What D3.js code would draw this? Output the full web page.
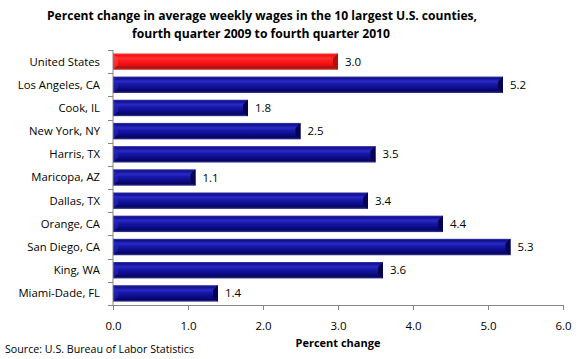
<!DOCTYPE html>
<html><head><meta charset="utf-8">
<script src="https://cdn.jsdelivr.net/npm/d3@7"></script>
<style>body{margin:0;background:#fff}svg{display:block}</style>
</head><body>
<script>
const categories = ["United States","Los Angeles, CA","Cook, IL","New York, NY","Harris, TX","Maricopa, AZ","Dallas, TX","Orange, CA","San Diego, CA","King, WA","Miami-Dade, FL"];
const values = [3.0,5.2,1.8,2.5,3.5,1.1,3.4,4.4,5.3,3.6,1.4];
const xTicks = [0,1,2,3,4,5,6];
const titleLines = ["Percent change in average weekly wages in the 10 largest U.S. counties,","fourth quarter 2009 to fourth quarter 2010"];
const xTitle = "Percent change";
const source = "Source: U.S. Bureau of Labor Statistics";

const W=580,H=359;
const svg=d3.select("body").append("svg").attr("width",W).attr("height",H);
const font="'Open Sans', 'Liberation Sans', sans-serif";
const x=d3.scaleLinear().domain([0,6]).range([113,563]);
const y=d3.scaleBand().domain(categories).range([50,305]).paddingInner(0.29).paddingOuter(0.145);

const defs=svg.append("defs");
function grad(id,stops){
  const g=defs.append("linearGradient").attr("id",id).attr("x1",0).attr("y1",0).attr("x2",0).attr("y2",1);
  stops.forEach(s=>g.append("stop").attr("offset",s[0]).attr("stop-color",s[1]));
}
grad("gBlue",[[0,"#3a3ab0"],[0.1,"#10108a"],[0.3,"#2a2ac8"],[0.45,"#1818a8"],[0.7,"#0c0c8a"],[0.88,"#06065e"],[1,"#3a3a9a"]]);
grad("gRed",[[0,"#ff5a5a"],[0.1,"#ee1010"],[0.3,"#ff3030"],[0.45,"#ff1a1a"],[0.7,"#e81010"],[0.88,"#a81010"],[1,"#d84040"]]);

// bars
const bars=svg.append("g");
categories.forEach((c,i)=>{
  const isUS=i===0;
  const y0=y(c),h=y.bandwidth(),x0=x(0),x1=x(values[i]);
  bars.append("rect").attr("x",x0).attr("y",y0).attr("width",x1-x0).attr("height",h)
    .attr("fill",isUS?"url(#gRed)":"url(#gBlue)");
  const b=5;
  bars.append("path").attr("d",`M${x1},${y0}L${x1-b},${y0+b}L${x1-b},${y0+h-b}L${x1},${y0+h}Z`)
    .attr("fill",isUS?"#b01010":"#040450");
  bars.append("path").attr("d",`M${x0},${y0}L${x0+b},${y0+b}L${x0+b},${y0+h-b}L${x0},${y0+h}Z`)
    .attr("fill",isUS?"#ff4040":"#2626b8").attr("opacity",0.6);
  svg.append("text").attr("x",x1+7).attr("y",y0+h/2).attr("dy","0.35em")
    .attr("font-family",font).attr("font-size",11.5).attr("fill","#000").text(values[i].toFixed(1));
});

// y axis
const axCol="#868686";
svg.append("line").attr("x1",113).attr("x2",113).attr("y1",50).attr("y2",305).attr("stroke",axCol);
const bounds=d3.range(categories.length+1).map(i=>50+i*(255/categories.length));
bounds.forEach(b=>svg.append("line").attr("x1",108).attr("x2",113).attr("y1",Math.round(b)+0.5).attr("y2",Math.round(b)+0.5).attr("stroke",axCol));
categories.forEach(c=>svg.append("text").attr("x",100).attr("y",y(c)+y.bandwidth()/2).attr("dy","0.35em")
  .attr("text-anchor","end").attr("font-family",font).attr("font-size",11.3).attr("fill","#000").text(c));

// x axis
const xa=svg.append("g").attr("transform","translate(0,305)")
  .call(d3.axisBottom(x).tickValues(xTicks).tickSize(5).tickFormat(d3.format(".1f")));
xa.select(".domain").attr("stroke",axCol).attr("d","M113.5,0.5H563.5");
xa.selectAll(".tick line").attr("stroke",axCol);
xa.selectAll(".tick text").attr("font-family",font).attr("font-size",11.5).attr("fill","#000").attr("y",17);

svg.append("text").attr("x",338).attr("y",347).attr("text-anchor","middle").attr("font-family",font)
  .attr("font-size",11).attr("font-weight","bold").text(xTitle);
svg.append("text").attr("x",5).attr("y",353).attr("font-family",font).attr("font-size",10.5)
  .attr("textLength",189).attr("lengthAdjust","spacingAndGlyphs").text(source);

svg.append("text").attr("x",262).attr("y",20).attr("text-anchor","middle").attr("font-family",font)
  .attr("font-size",13).attr("font-weight","bold").attr("textLength",430).attr("lengthAdjust","spacingAndGlyphs").text(titleLines[0]);
svg.append("text").attr("x",261).attr("y",38).attr("text-anchor","middle").attr("font-family",font)
  .attr("font-size",13).attr("font-weight","bold").attr("textLength",258).attr("lengthAdjust","spacingAndGlyphs").text(titleLines[1]);
</script>
</body></html>
